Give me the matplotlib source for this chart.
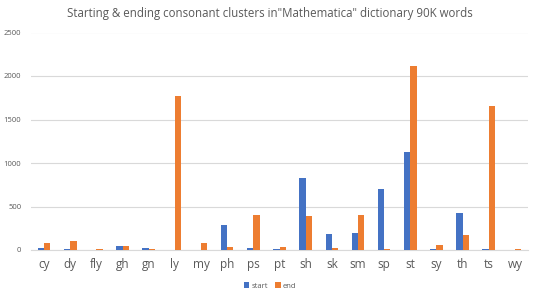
import matplotlib
matplotlib.use('Agg')
import matplotlib.pyplot as plt
import numpy as np

# ── data ────────────────────────────────────────────────────────
clusters = ['cy', 'dy', 'fly', 'gh', 'gn', 'ly', 'my', 'ph', 'ps', 'pt',
            'sh', 'sk', 'sm', 'sp', 'st', 'sy', 'th', 'ts', 'wy']
start = [26, 12, 0, 42, 25, 0, 0, 288, 25, 10,
         831, 185, 193, 698, 1123, 10, 428, 15, 0]
end = [76, 102, 8, 49, 17, 1770, 83, 34, 398, 34,
       390, 26, 405, 10, 2118, 60, 178, 1652, 10]

BLUE = '#4472C4'
ORANGE = '#ED7D31'
GRID = '#D9D9D9'
TXT = '#595959'

plt.rcParams['font.family'] = ['Open Sans', 'DejaVu Sans']

fig = plt.figure(figsize=(5.4, 2.97), dpi=100)
ax = fig.add_axes([31/540, 47/297, 497/540, 217.5/297])

x = np.arange(len(clusters))
w = 0.24
ax.bar(x - w/2, start, w, color=BLUE, label='start', zorder=3)
ax.bar(x + w/2, end, w, color=ORANGE, label='end', zorder=3)

ax.set_xlim(-0.5, len(clusters) - 0.5)
ax.set_ylim(0, 2500)
ax.set_yticks(range(0, 2501, 500))
ax.yaxis.grid(True, color=GRID, lw=0.8, zorder=0)
ax.tick_params(axis='y', length=0, labelsize=5.5, labelcolor=TXT, pad=7)
ax.set_xticks(x)
ax.set_xticklabels(clusters)
ax.tick_params(axis='x', length=0, labelsize=8.5, labelcolor=TXT, pad=6)
for s in ['top', 'right', 'left']:
    ax.spines[s].set_visible(False)
ax.spines['bottom'].set_color(GRID)
ax.spines['bottom'].set_linewidth(0.8)

fig.text(0.5, 1 - 14/297, 'Starting & ending consonant clusters in"Mathematica" dictionary 90K words',
         ha='center', va='center', fontsize=8.3, color=TXT)

fig.legend(loc='center', bbox_to_anchor=(0.5, 1 - 286/297), ncol=2, frameon=False,
           fontsize=5.5, labelcolor=TXT, handlelength=0.7, handleheight=0.7,
           handletextpad=0.3, columnspacing=1.0)

fig.savefig('out.png', dpi=100, facecolor='white')
